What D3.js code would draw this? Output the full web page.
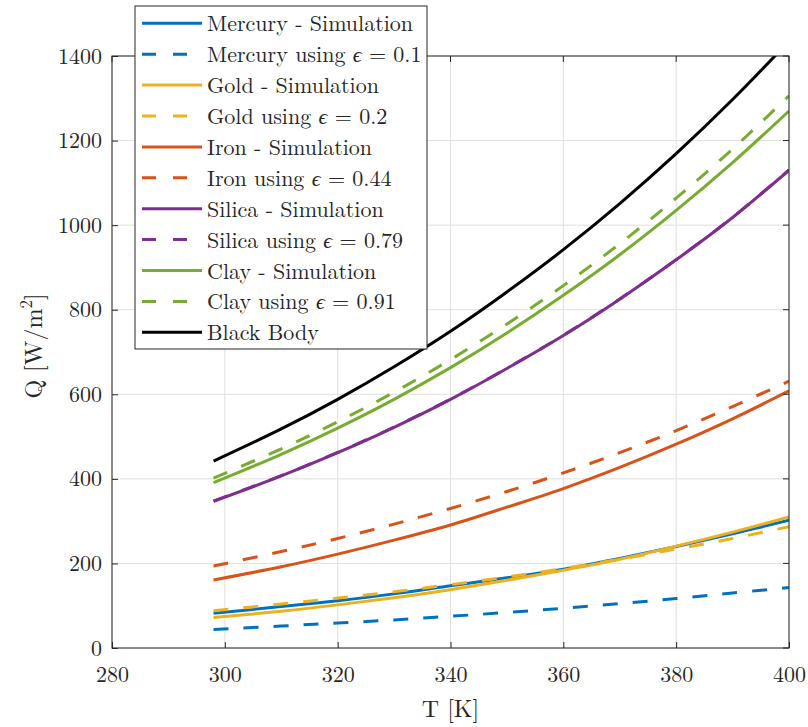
<!DOCTYPE html>
<html>
<head>
<meta charset="utf-8">
<script src="https://cdn.jsdelivr.net/npm/d3@7"></script>
<style>
  html, body { margin: 0; padding: 0; background: #fff; }
  svg { display: block; }
</style>
</head>
<body>
<svg id="chart" width="808" height="727"></svg>
<script>
// ---- Data ----
const temperatures = [298, 310, 320, 330, 340, 350, 360, 370, 380, 390, 400];

const mercurySim   = [82, 98, 112, 128, 147, 166, 186, 212, 240, 270, 302];
const mercuryEps   = [44, 52, 59, 66.5, 75, 84, 94, 105, 117, 130, 143];
const goldSim      = [72, 87, 102, 119, 138, 160, 184, 210, 241, 274, 310];
const goldEps      = [88, 104, 118, 133, 150, 168, 188, 210, 234, 259, 287];
const ironSim      = [161, 192, 222, 255, 291, 333, 377, 427, 482, 542, 608];
const ironEps      = [194, 228, 259, 293, 330, 370, 414, 462, 514, 571, 631];
const silicaSim    = [347, 407, 462, 522, 588, 661, 739, 825, 918, 1018, 1130];
const silicaEps    = [347.5, 407.5, 462.5, 522.5, 588.5, 661.5, 739.5, 825.5, 918.5, 1018.5, 1130.5];
const claySim      = [391, 458, 520, 588, 663, 745, 834, 930, 1035, 1148, 1270];
const clayEps      = [402, 471, 535, 605, 682, 766, 857, 956, 1064, 1180, 1306];
const blackBody    = [442, 518, 588, 665, 749, 842, 942, 1051, 1169, 1297, 1435];

const seriesNames = [
  "Mercury - Simulation", "Mercury using ϵ = 0.1",
  "Gold - Simulation", "Gold using ϵ = 0.2",
  "Iron - Simulation", "Iron using ϵ = 0.44",
  "Silica - Simulation", "Silica using ϵ = 0.79",
  "Clay - Simulation", "Clay using ϵ = 0.91",
  "Black Body"
];
const seriesValues = [mercurySim, mercuryEps, goldSim, goldEps, ironSim, ironEps,
                      silicaSim, silicaEps, claySim, clayEps, blackBody];
const seriesColors = ["#0072BD", "#0072BD", "#EDB120", "#EDB120", "#D95319", "#D95319",
                      "#7E2F8E", "#7E2F8E", "#77AC30", "#77AC30", "#000000"];
const seriesDashed = [false, true, false, true, false, true, false, true, false, true, false];

const xTicks = [280, 300, 320, 340, 360, 380, 400];
const yTicks = [0, 200, 400, 600, 800, 1000, 1200, 1400];

// ---- Layout ----
const FONT = '"Latin Modern Roman", "CMU Serif", "Liberation Serif", serif';
const svg = d3.select("#chart");
const L = 112, R = 789, T = 56, B = 648;
const x = d3.scaleLinear().domain([280, 400]).range([L, R]);
const y = d3.scaleLinear().domain([0, 1400]).range([B, T]);
const axisColor = "#262626";
const fontSize = 22;

svg.append("defs").append("clipPath").attr("id", "plotclip")
  .append("rect").attr("x", L).attr("y", T).attr("width", R - L).attr("height", B - T);

// grid
const grid = svg.append("g");
xTicks.forEach(t => grid.append("line")
  .attr("x1", x(t)).attr("x2", x(t)).attr("y1", T).attr("y2", B)
  .attr("stroke", "#dfdfdf").attr("stroke-width", 1));
yTicks.forEach(t => grid.append("line")
  .attr("x1", L).attr("x2", R).attr("y1", y(t)).attr("y2", y(t))
  .attr("stroke", "#dfdfdf").attr("stroke-width", 1));

// lines
const line = d3.line()
  .x((d, i) => x(temperatures[i]))
  .y(d => y(d))
  .curve(d3.curveCatmullRom.alpha(0.5));

const plot = svg.append("g").attr("clip-path", "url(#plotclip)");
seriesValues.forEach((vals, k) => {
  plot.append("path")
    .attr("d", line(vals))
    .attr("fill", "none")
    .attr("stroke", seriesColors[k])
    .attr("stroke-width", 3)
    .attr("stroke-dasharray", seriesDashed[k] ? "15,15" : null);
});

// axes (bottom/left with inward ticks, plus box)
const xAxis = d3.axisBottom(x).tickValues(xTicks).tickFormat(d3.format("d"))
  .tickSizeInner(-6).tickSizeOuter(0);
const yAxis = d3.axisLeft(y).tickValues(yTicks).tickFormat(d3.format("d"))
  .tickSizeInner(-6).tickSizeOuter(0);
const gx = svg.append("g").attr("transform", `translate(0,${B})`).call(xAxis);
const gy = svg.append("g").attr("transform", `translate(${L},0)`).call(yAxis);
[gx, gy].forEach(g => {
  g.select(".domain").remove();
  g.selectAll(".tick line").attr("stroke", axisColor);
  g.selectAll(".tick text").attr("font-size", fontSize)
    .style("font-family", FONT).attr("fill", axisColor);
});
gx.selectAll(".tick text").attr("y", 34).attr("dy", null);
gy.selectAll(".tick text").attr("x", -10).attr("dy", null).attr("y", 7);

// top & right ticks
xTicks.forEach(t => svg.append("line").attr("x1", x(t)).attr("x2", x(t))
  .attr("y1", T).attr("y2", T + 6).attr("stroke", axisColor));
yTicks.forEach(t => svg.append("line").attr("x1", R).attr("x2", R - 6)
  .attr("y1", y(t)).attr("y2", y(t)).attr("stroke", axisColor));
svg.append("rect").attr("x", L).attr("y", T).attr("width", R - L).attr("height", B - T)
  .attr("fill", "none").attr("stroke", axisColor).attr("stroke-width", 1);

// axis labels
svg.append("text").attr("x", (L + R) / 2).attr("y", 717)
  .attr("text-anchor", "middle").attr("font-size", 24)
  .style("font-family", FONT).attr("fill", axisColor).text("T [K]");
const yl = svg.append("text")
  .attr("transform", `translate(42,346) rotate(-90)`)
  .attr("text-anchor", "middle").attr("font-size", 24)
  .style("font-family", FONT).attr("fill", axisColor);
yl.append("tspan").text("Q [W/m");
yl.append("tspan").attr("font-size", 17).attr("dy", -10).text("2");
yl.append("tspan").attr("dy", 10).text("]");

// legend
const lg = svg.append("g");
const lx = 135, ly = 6, lw = 292, lh = 343, rowH = 30.9, row0 = 23.3;
lg.append("rect").attr("x", lx).attr("y", ly).attr("width", lw).attr("height", lh)
  .attr("fill", "#fff").attr("stroke", axisColor).attr("stroke-width", 1);
seriesNames.forEach((name, k) => {
  const yy = row0 + k * rowH;
  lg.append("line").attr("x1", 142).attr("x2", 202).attr("y1", yy).attr("y2", yy)
    .attr("stroke", seriesColors[k]).attr("stroke-width", 3)
    .attr("stroke-dasharray", seriesDashed[k] ? "14,17" : null);
  const t = lg.append("text").attr("x", 207).attr("y", yy + 8).attr("font-size", fontSize)
    .style("font-family", FONT).attr("fill", axisColor);
  const m = name.match(/^(.*)ϵ(.*)$/);
  if (m) {
    t.append("tspan").text(m[1]);
    t.append("tspan").attr("font-style", "italic").text("ϵ");
    t.append("tspan").text(m[2]);
  } else {
    t.text(name);
  }
});
</script>
</body>
</html>
